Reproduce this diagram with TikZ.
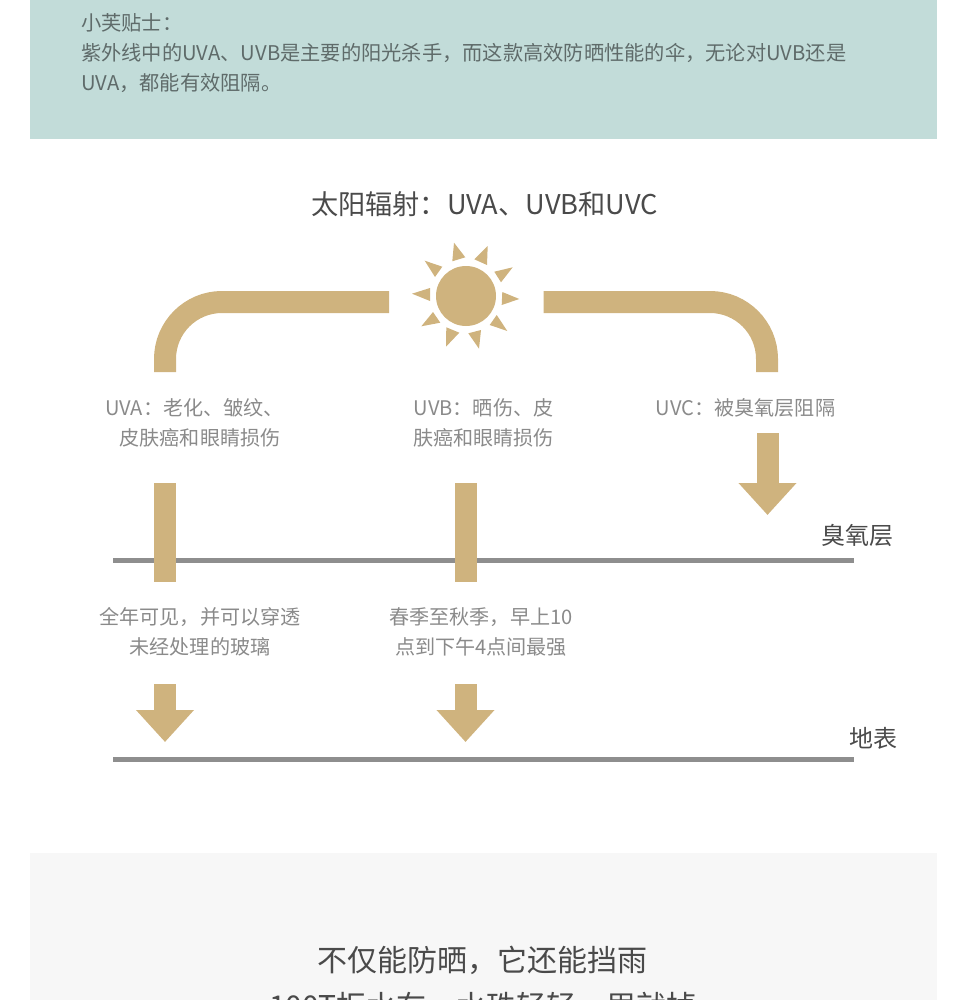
\documentclass[tikz,border=0pt]{standalone}
\usepackage{fontspec}
\setmainfont{Noto Sans CJK SC}
\usetikzlibrary{arrows.meta}
\definecolor{tipbg}{HTML}{C2DCD9}
\definecolor{tan}{HTML}{CFB37E}
\definecolor{linegray}{HTML}{8E8E8E}
\definecolor{labelgray}{HTML}{8A8A8A}
\definecolor{titlegray}{HTML}{4A4A4A}
\definecolor{tipgray}{HTML}{5F6B6A}
\definecolor{footbg}{HTML}{F7F7F7}
\newcommand{\fsize}[1]{\fontsize{#1}{30}\selectfont}
\tikzset{
  label/.style={inner sep=0pt,align=center,text=labelgray,font=\fsize{20.1}},
  tip/.style={inner sep=0pt,align=left,anchor=north west,text=tipgray,font=\fsize{20.25}},
  title/.style={inner sep=0pt,align=center,text=titlegray,font=\fsize{27.2}},
  band/.style={draw=tan,line width=22pt},
  downarrow/.style={draw=tan,line width=22pt,-{Triangle[width=56pt,length=32pt]}},
  ground/.style={draw=linegray,line width=5pt},
}
\begin{document}
\begin{tikzpicture}[x=1pt,y=-1pt]

\clip (0,0) rectangle (970,1000);
\fill[tipbg] (30,-1) rectangle (937,139);
\fill[footbg] (30,853) rectangle (937,1001);

\node[tip] (tip) at (81,13.5) {小芙贴士：\\紫外线中的UVA、UVB是主要的阳光杀手，而这款高效防晒性能的伞，无论对UVB还是\\UVA，都能有效阻隔。};
\node[title] (head) at (484.5,204) {太阳辐射：UVA、UVB和UVC};

% sun
\node[circle,fill=tan,minimum size=60pt,inner sep=0pt] (sun) at (466,296) {};
\foreach \ax/\ay/\bx/\by/\cx/\cy in {
  454/242.7/465.3/257.3/452.3/261.3,
  487.7/246/474.3/259.3/487/265,
  512.7/267.3/494.3/271.7/501/282.3,
  519.3/299/502.3/292/501.7/305,
  507.3/331/496.7/315/489.7/325,
  479/348.7/481/330/468.3/333.3,
  446/346.7/459.3/332.7/446.3/327.3,
  421.3/326.3/440.3/322.7/433/312,
  412/293.7/430/288/430/301,
  424.7/260.7/442.3/266.7/435/277}
  \fill[tan] (\ax,\ay) -- (\bx,\by) -- (\cx,\cy) -- cycle;

% bands from the sun
\coordinate (bl1) at (389,302);
\coordinate (bl2) at (165,302);
\coordinate (bl3) at (165,372);
\coordinate (br1) at (543.5,302);
\coordinate (br2) at (767,302);
\coordinate (br3) at (767,372);
\draw[band,rounded corners=57pt] (bl1) -- (bl2) -- (bl3);
\draw[band,rounded corners=57pt] (br1) -- (br2) -- (br3);

\node[label] (uva) at (194.5,423) {UVA：老化、皱纹、\\\hspace*{11pt}皮肤癌和眼睛损伤};
\node[label] (uvb) at (483.5,423) {UVB：晒伤、皮\\肤癌和眼睛损伤};
\node[label] (uvc) at (745.5,408) {UVC：被臭氧层阻隔};

% ground lines
\coordinate (o1) at (113,560);
\coordinate (o2) at (854,560);
\coordinate (g1) at (113,759);
\coordinate (g2) at (854,759);
\draw[ground] (o1) -- (o2);
\draw[ground] (g1) -- (g2);
\node[title,font=\fsize{24}] (ozone) at (857,535) {臭氧层};
\node[title,font=\fsize{24}] (earth) at (873,738) {地表};

% bars through the ozone layer
\coordinate (a1) at (165,483);
\coordinate (a2) at (165,582);
\coordinate (b1) at (466,483);
\coordinate (b2) at (466,582);
\draw[band] (a1) -- (a2);
\draw[band] (b1) -- (b2);

\node[label] (uvat) at (200,632) {全年可见，并可以穿透\\未经处理的玻璃};
\node[label] (uvbt) at (481,632) {春季至秋季，早上10\\点到下午4点间最强};

% arrows
\coordinate (c1) at (767.5,433);
\coordinate (c2) at (767.5,515);
\coordinate (d1) at (165,684);
\coordinate (d2) at (165,742);
\coordinate (e1) at (465.5,684);
\coordinate (e2) at (465.5,742);
\draw[downarrow] (c1) -- (c2);
\draw[downarrow] (d1) -- (d2);
\draw[downarrow] (e1) -- (e2);

\node[title,font=\fsize{30}] (foot1) at (482.5,960) {不仅能防晒，它还能挡雨};
\node[title,font=\fsize{30}] (foot2) at (483,1006) {100T拒水布，水珠轻轻一甩就掉};

\end{tikzpicture}
\end{document}
